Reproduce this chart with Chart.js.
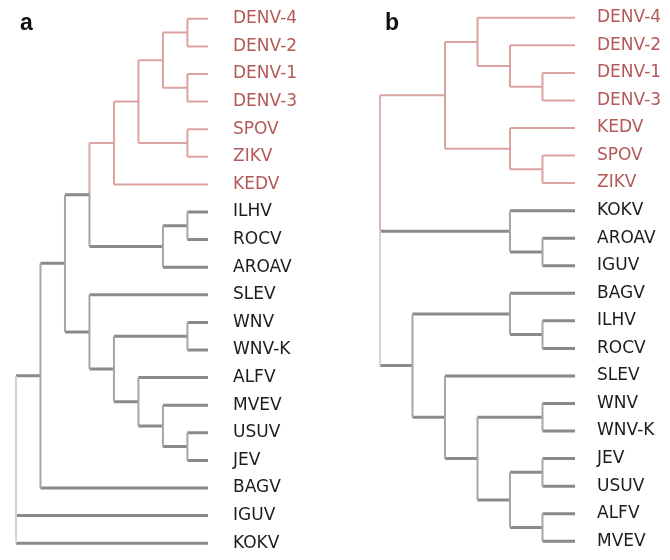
<!DOCTYPE html>
<html>
<head>
<meta charset="utf-8">
<script src="https://cdn.jsdelivr.net/npm/chart.js@4"></script>
<style>
  body { margin: 0; background: #fff; }
  #wrap { position: relative; width: 670px; height: 560px; }
  canvas { position: absolute; top: 0; }
  .tag { position: absolute; top: 11px; font: bold 23px 'Liberation Sans', Arial, sans-serif; line-height: 23px; color: #111; }
</style>
</head>
<body>
<div id="wrap">
  <canvas id="treeA" width="335" height="560" style="left:0"></canvas>
  <canvas id="treeB" width="335" height="560" style="left:335px"></canvas>
  <div class="tag" style="left:20px">a</div>
  <div class="tag" style="left:385px">b</div>
</div>
<script>
// leaf order, top to bottom
const leavesA = ['DENV-4', 'DENV-2', 'DENV-1', 'DENV-3', 'SPOV', 'ZIKV', 'KEDV', 'ILHV', 'ROCV', 'AROAV',
                 'SLEV', 'WNV', 'WNV-K', 'ALFV', 'MVEV', 'USUV', 'JEV', 'BAGV', 'IGUV', 'KOKV'];
const leavesB = ['DENV-4', 'DENV-2', 'DENV-1', 'DENV-3', 'KEDV', 'SPOV', 'ZIKV', 'KOKV', 'AROAV', 'IGUV',
                 'BAGV', 'ILHV', 'ROCV', 'SLEV', 'WNV', 'WNV-K', 'JEV', 'USUV', 'ALFV', 'MVEV'];
const redClade = ['DENV-4', 'DENV-2', 'DENV-1', 'DENV-3', 'SPOV', 'ZIKV', 'KEDV'];

// internal nodes: [id, depth, ...children], children listed before parents
const nodesA = [
    ['d42', 7, 'DENV-4', 'DENV-2'], ['d13', 7, 'DENV-1', 'DENV-3'], ['den', 6, 'd42', 'd13'],
    ['sz', 7, 'SPOV', 'ZIKV'], ['densz', 5, 'den', 'sz'], ['red', 4, 'densz', 'KEDV'],
    ['ir', 7, 'ILHV', 'ROCV'], ['ira', 6, 'ir', 'AROAV'], ['redira', 3, 'red', 'ira'],
    ['ww', 7, 'WNV', 'WNV-K'], ['uj', 7, 'USUV', 'JEV'], ['muj', 6, 'MVEV', 'uj'],
    ['amuj', 5, 'ALFV', 'muj'], ['wa', 4, 'ww', 'amuj'], ['sw', 3, 'SLEV', 'wa'],
    ['x', 2, 'redira', 'sw'], ['xb', 1, 'x', 'BAGV'], ['root', 0, 'xb', 'IGUV', 'KOKV']
];
const nodesB = [
    ['d13', 5, 'DENV-1', 'DENV-3'], ['d2', 4, 'DENV-2', 'd13'], ['d4', 3, 'DENV-4', 'd2'],
    ['sz', 5, 'SPOV', 'ZIKV'], ['ksz', 4, 'KEDV', 'sz'], ['red', 2, 'd4', 'ksz'],
    ['ai', 5, 'AROAV', 'IGUV'], ['kai', 4, 'KOKV', 'ai'],
    ['ir', 5, 'ILHV', 'ROCV'], ['bir', 4, 'BAGV', 'ir'],
    ['ww', 5, 'WNV', 'WNV-K'], ['ju', 5, 'JEV', 'USUV'], ['am', 5, 'ALFV', 'MVEV'],
    ['juam', 4, 'ju', 'am'], ['wj', 3, 'ww', 'juam'], ['sw', 2, 'SLEV', 'wj'],
    ['bs', 1, 'bir', 'sw'], ['root', 0, 'red', 'kai', 'bs']
];
const tipA = 7.84;
const tipB = 6;

const styles = {
    red:      { color: '#dba2a2', width: 2 },
    grayH:    { color: '#8a8a8a', width: 3 },
    grayV:    { color: '#a6a6a6', width: 2 },
    rootRed:  { color: '#e2b0b0', width: 2 },
    rootGray: { color: '#d4d4d4', width: 2 }
};

function buildSegments(leaves, nodes, tip) {
    const pos = {};
    const segs = { red: [], grayH: [], grayV: [], rootRed: [], rootGray: [] };
    leaves.forEach((name, i) => { pos[name] = { x: tip, y: i, red: redClade.includes(name) }; });
    const add = (key, x1, y1, x2, y2) => segs[key].push({ x: x1, y: y1 }, { x: x2, y: y2 }, { x: null, y: null });
    nodes.forEach(([id, depth, ...kids]) => {
        const first = pos[kids[0]], last = pos[kids[kids.length - 1]];
        const y = (first.y + last.y) / 2;
        const isRoot = depth === 0;
        pos[id] = { x: depth, y: y, red: kids.every(k => pos[k].red) };
        kids.forEach(k => add(pos[k].red ? 'red' : 'grayH', depth, pos[k].y, pos[k].x, pos[k].y));
        const vKey = c => isRoot ? (c.red ? 'rootRed' : 'rootGray') : (c.red ? 'red' : 'grayV');
        add(vKey(first), depth, first.y, depth, y);
        add(vKey(last), depth, y, depth, last.y);
    });
    return segs;
}

function drawTree(canvasId, leaves, nodes, tip, padLeft, padTop, padBottom, axisWidth, labelGap) {
    const segs = buildSegments(leaves, nodes, tip);
    // verticals first so horizontals sit on top
    const order = ['rootGray', 'rootRed', 'grayV', 'grayH', 'red'];
    const datasets = order.map(k => ({
        data: segs[k],
        borderColor: styles[k].color,
        borderWidth: styles[k].width,
        pointRadius: 0,
        tension: 0,
        spanGaps: false,
        borderCapStyle: 'butt',
        clip: 4
    }));
    return new Chart(document.getElementById(canvasId), {
        type: 'line',
        data: { datasets: datasets },
        options: {
            responsive: false,
            animation: false,
            layout: { padding: { left: padLeft, top: padTop, bottom: padBottom, right: 0 } },
            plugins: { legend: { display: false }, tooltip: { enabled: false } },
            scales: {
                x: { type: 'linear', min: 0, max: tip, display: false },
                y: {
                    type: 'linear',
                    position: 'right',
                    reverse: true,
                    min: -0.5,
                    max: leaves.length - 0.5,
                    grid: { display: false, drawTicks: false },
                    border: { display: false },
                    afterBuildTicks: s => { s.ticks = leaves.map((_, i) => ({ value: i })); },
                    afterFit: s => { s.width = axisWidth; s.paddingTop = 0; s.paddingBottom = 0; },
                    ticks: {
                        autoSkip: false,
                        padding: labelGap,
                        font: { family: "'DejaVu Sans', Verdana, sans-serif", size: 17 },
                        color: c => redClade.includes(leaves[c.tick.value]) ? '#b45858' : '#1c1c1c',
                        callback: v => leaves[v]
                    }
                }
            }
        }
    });
}

drawTree('treeA', leavesA, nodesA, tipA, 16, 5, 3, 127, 25);
drawTree('treeB', leavesB, nodesB, tipB, 45, 4, 5, 95, 22);
</script>
</body>
</html>
